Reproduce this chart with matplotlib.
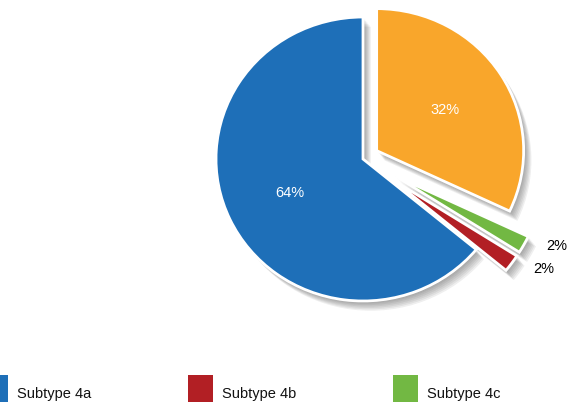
import numpy as np
import matplotlib
matplotlib.use("Agg")
import matplotlib.pyplot as plt
import matplotlib.patches as mpatches
import matplotlib.transforms as mtransforms

plt.rcParams['font.family'] = ['Liberation Sans', 'DejaVu Sans']

labels = ["Subtype 4a", "Subtype 4b", "Subtype 4c", "Subtype 4d"]
values = [64, 2, 2, 32]
colors = ["#1E6FB8", "#B21F24", "#72B843", "#F9A62B"]
explode = [0.0, 0.25, 0.25, 0.11]
label_colors = ["white", "black", "black", "white"]

W, H = 577, 414
fig = plt.figure(figsize=(W / 100, H / 100), dpi=100)
ax = fig.add_axes([0, 0, 1, 1])
RX, RY = 147.0, 142.0
cx, cy = 363.0, 160.0


def set_limits():
    ax.set_xlim(-cx / RX, (W - cx) / RX)
    ax.set_ylim(-(H - cy) / RY, cy / RY)
    ax.set_aspect('auto')


set_limits()
ax.axis('off')

wedges, texts, autotexts = ax.pie(
    values, colors=colors, explode=explode, startangle=90, counterclock=True,
    autopct='%1.0f%%', pctdistance=0.55, radius=1.0, center=(0, 0),
    wedgeprops=dict(edgecolor='white', linewidth=2.0, zorder=3),
    textprops=dict(fontsize=10.5), frame=False)
set_limits()

# soft shadow: stacked translucent copies offset down-right
for w in wedges:
    for k in range(1, 8):
        off = mtransforms.ScaledTranslation(0.8 * k / 72, -1.0 * k / 72,
                                            fig.dpi_scale_trans)
        sh = mpatches.Wedge(w.center, w.r, w.theta1, w.theta2,
                            facecolor='#333333', edgecolor='none', alpha=0.08,
                            transform=ax.transData + off, zorder=1)
        ax.add_patch(sh)

for w, t, v, c in zip(wedges, autotexts, values, label_colors):
    t.set_color(c)
    t.set_zorder(5)
    if v < 5:
        ang = np.deg2rad((w.theta1 + w.theta2) / 2 + 5)
        x0, y0 = w.center
        t.set_position((x0 + 1.2 * np.cos(ang), y0 + 1.2 * np.sin(ang)))

# legend (manual, bottom row)
sw_w, sw_h = 25, 27
for i in range(3):
    x_px = -17 + i * 205
    y_top = 376
    rect = mpatches.Rectangle((x_px / W, 1 - (y_top + sw_h) / H), sw_w / W, sw_h / H,
                              transform=fig.transFigure, facecolor=colors[i],
                              edgecolor='none')
    fig.add_artist(rect)
    fig.text((x_px + 34) / W, 1 - 394 / H, labels[i], fontsize=10.5,
             va='center', ha='left', color='#111111')

fig.savefig("out.png", dpi=100)
